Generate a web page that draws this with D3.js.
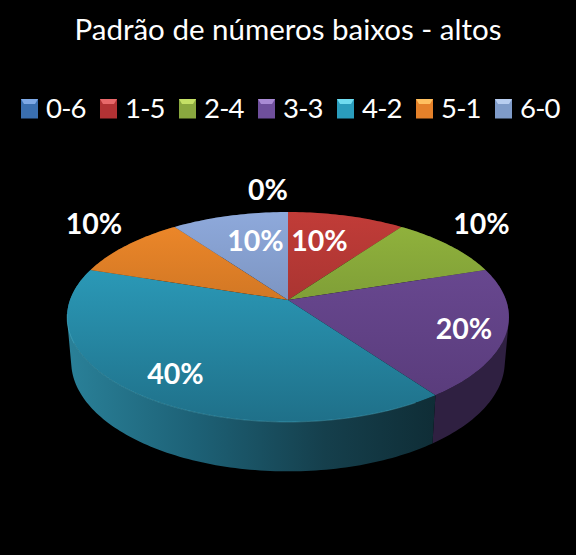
<!DOCTYPE html>
<meta charset="utf-8">
<style>
  html, body { margin: 0; padding: 0; background: #000; }
  svg { display: block; }
  text { font-family: Lato, "Open Sans", sans-serif; fill: #fff; }
</style>
<body>
<div id="chart"></div>
<script src="https://d3js.org/d3.v7.min.js"></script>
<script>
  var chartTitle = "Padrão de números baixos - altos";
  var categories = ["0-6", "1-5", "2-4", "3-3", "4-2", "5-1", "6-0"];
  var values = [0, 10, 10, 20, 40, 10, 10];

  // top / bottom of the face gradient, then the swatch colour
  var faceTop = ["#4f81bd", "#c13c38", "#93b53d", "#6e4c98", "#2fa8c8", "#f0892a", "#8ea9db"];
  var faceBottom = ["#3a6298", "#8a2b29", "#64802f", "#573a78", "#1f7089", "#a85f1c", "#64799f"];
  var swatch = ["#3a6fb0", "#b23234", "#8aa83f", "#6f4f9c", "#2a9dbd", "#e5812a", "#7f9bc9"];
  var swatchLight = ["#7ea9e6", "#e8686a", "#c4e066", "#a98ad4", "#6fdcf0", "#ffc060", "#b8cdf0"];

  // where Excel left the data labels
  var labelAt = [[268, 200], [319.5, 251], [481.5, 234], [464, 339], [175.5, 384], [94, 234], [255.5, 251]];

  var width = 576, height = 555;
  var cx = 288;

  // perspective of the top and bottom disks
  var topDisk = {y0: 300, A: 102.2, B: 218, p: 0.162};
  var bottomDisk = {y0: 344, A: 107, B: 214, p: 0.16};

  function project(disk, a) {
    var u = Math.sin(a), v = Math.cos(a), k = 1 + disk.p * v;
    return [cx + disk.B * u / k, disk.y0 - disk.A * v / k];
  }

  function arcPoints(disk, a0, a1) {
    var n = Math.max(2, Math.ceil((a1 - a0) / 0.02));
    return d3.range(n + 1).map(function (i) {
      return project(disk, a0 + (a1 - a0) * i / n);
    });
  }

  var pie = d3.pie().sort(null).value(function (d) { return d; });
  var slices = pie(values);
  var line = d3.line();

  var svg = d3.select("#chart").append("svg")
    .attr("width", width)
    .attr("height", height);

  svg.append("rect").attr("width", width).attr("height", height).attr("fill", "#000");

  var defs = svg.append("defs");

  categories.forEach(function (c, i) {
    var g = defs.append("linearGradient")
      .attr("id", "face" + i)
      .attr("gradientUnits", "userSpaceOnUse")
      .attr("x1", 0).attr("x2", 0).attr("y1", 212).attr("y2", 422);
    g.append("stop").attr("offset", 0).attr("stop-color", faceTop[i]);
    g.append("stop").attr("offset", 1).attr("stop-color", faceBottom[i]);
  });

  var sideTeal = defs.append("linearGradient")
    .attr("id", "side4")
    .attr("gradientUnits", "userSpaceOnUse")
    .attr("x1", 66).attr("x2", 436).attr("y1", 0).attr("y2", 0);
  sideTeal.append("stop").attr("offset", 0).attr("stop-color", "#2a8199");
  sideTeal.append("stop").attr("offset", 0.35).attr("stop-color", "#1d6176");
  sideTeal.append("stop").attr("offset", 0.7).attr("stop-color", "#153f4c");
  sideTeal.append("stop").attr("offset", 1).attr("stop-color", "#0f2d36");

  // side wall first, the faces cover the back of it
  // one quad per step in a single path, all wound the same way or they cancel at the widest point
  svg.append("g").selectAll("path")
    .data(slices)
    .join("path")
    .filter(function (d) { return d.value > 0; })
    .attr("d", function (d) {
      var up = arcPoints(topDisk, d.startAngle, d.endAngle);
      var down = arcPoints(bottomDisk, d.startAngle, d.endAngle);
      return d3.range(up.length - 1).map(function (i) {
        var quad = [up[i], up[i + 1], down[i + 1], down[i]];
        if (d3.polygonArea(quad) < 0) quad.reverse();
        return line(quad) + "Z";
      }).join("");
    })
    .attr("fill", function (d) {
      return d.index === 4 ? "url(#side4)" : d3.color(faceBottom[d.index]).darker(1.7);
    });

  svg.append("g").selectAll("path")
    .data(slices)
    .join("path")
    .filter(function (d) { return d.value > 0; })
    .attr("d", function (d) {
      return line([[cx, topDisk.y0]].concat(arcPoints(topDisk, d.startAngle, d.endAngle))) + "Z";
    })
    .attr("fill", function (d) { return "url(#face" + d.index + ")"; });

  // thin light rim along the front of the big slice
  svg.append("path")
    .attr("d", line(arcPoints(topDisk, slices[4].startAngle + 0.1, slices[4].endAngle - 0.45)))
    .attr("fill", "none")
    .attr("stroke", "#5cc0d8")
    .attr("stroke-opacity", 0.45)
    .attr("stroke-width", 0.8);

  svg.append("text")
    .attr("x", cx)
    .attr("y", 40)
    .attr("text-anchor", "middle")
    .attr("font-size", 29.5)
    .text(chartTitle);

  var legendX = d3.scalePoint().domain(categories).range([21, 495]);

  var legend = svg.append("g").selectAll("g")
    .data(categories)
    .join("g")
    .attr("transform", function (d) { return "translate(" + legendX(d) + ",99)"; });

  legend.append("rect")
    .attr("width", 17)
    .attr("height", 19.5)
    .attr("fill", function (d, i) { return swatch[i]; });

  legend.append("path")
    .attr("d", "M0,0H17L14,5H3Z")
    .attr("fill", function (d, i) { return swatchLight[i]; });

  legend.append("text")
    .attr("x", 25)
    .attr("y", 19)
    .attr("font-size", 27.5)
    .attr("letter-spacing", -0.8)
    .text(function (d) { return d; });

  svg.append("g").selectAll("text")
    .data(slices)
    .join("text")
    .attr("x", function (d) { return labelAt[d.index][0]; })
    .attr("y", function (d) { return labelAt[d.index][1]; })
    .attr("text-anchor", "middle")
    .attr("font-size", 28.5)
    .attr("font-weight", 700)
    .text(function (d) { return d.value + "%"; });
</script>
</body>
